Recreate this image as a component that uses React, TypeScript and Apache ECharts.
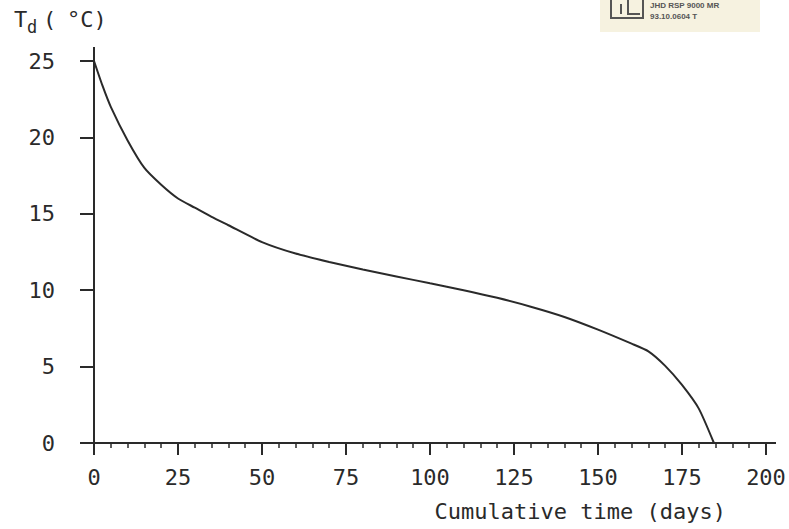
import React, { useEffect, useRef } from "react";
import * as echarts from "echarts";

const days = [0, 2.5, 5, 10, 15, 20, 25, 30, 35, 40, 50, 60, 70, 80, 90, 100, 110, 120, 130, 140, 150, 160, 165, 170, 175, 180, 184.5];
const temps = [25, 23.4, 22.0, 19.8, 18.0, 16.9, 16.0, 15.4, 14.8, 14.25, 13.15, 12.4, 11.85, 11.35, 10.9, 10.45, 10.0, 9.5, 8.92, 8.25, 7.42, 6.5, 6.0, 5.05, 3.8, 2.25, 0];
const xTicks = [0, 25, 50, 75, 100, 125, 150, 175, 200];
const yTicks = [0, 5, 10, 15, 20, 25];
const xName = "Cumulative time (days)";
const stampLines = ["JHD RSP 9000 MR", "93.10.0604 T"];

const FONT = "DejaVu Sans Mono";
const INK = "#2a2a2a";

export default function App() {
  const ref = useRef<HTMLDivElement>(null);
  useEffect(() => {
    if (!ref.current) return;
    const chart = echarts.init(ref.current, null, { renderer: "svg" });
    chart.setOption({
      animation: false,
      backgroundColor: "#ffffff",
      grid: { left: 94, right: 23, top: 61, bottom: 86 },
      xAxis: {
        type: "value",
        min: xTicks[0],
        max: xTicks[xTicks.length - 1],
        interval: 25,
        axisLine: { show: true, lineStyle: { color: INK, width: 2 } },
        axisTick: { show: true, length: 12, lineStyle: { color: INK, width: 2 } },
        minorTick: { show: true, splitNumber: 5, length: 5, lineStyle: { color: INK, width: 1.5 } },
        splitLine: { show: false },
        axisLabel: { margin: 23, color: INK, fontSize: 22, fontFamily: FONT },
      },
      yAxis: {
        type: "value",
        min: yTicks[0],
        max: yTicks[yTicks.length - 1],
        interval: 5,
        axisLine: { show: true, lineStyle: { color: INK, width: 2 } },
        axisTick: { show: true, length: 14, lineStyle: { color: INK, width: 2 } },
        splitLine: { show: false },
        axisLabel: { margin: 39, color: INK, fontSize: 22, fontFamily: FONT },
      },
      series: [
        {
          type: "line",
          data: days.map((d, i) => [d, temps[i]]),
          showSymbol: false,
          smooth: 0.2,
          lineStyle: { color: INK, width: 2 },
        },
      ],
      graphic: [
        // axis line extensions
        { type: "line", shape: { x1: 94, y1: 47, x2: 94, y2: 62 }, style: { stroke: INK, lineWidth: 2 } },
        { type: "line", shape: { x1: 80, y1: 443, x2: 95, y2: 443 }, style: { stroke: INK, lineWidth: 2 } },
        { type: "line", shape: { x1: 765, y1: 443, x2: 776, y2: 443 }, style: { stroke: INK, lineWidth: 2 } },
        // y axis name
        { type: "text", left: 14, top: 8, style: { text: "T", fontSize: 22, fontFamily: FONT, fill: INK } },
        { type: "text", left: 27, top: 18, style: { text: "d", fontSize: 17, fontFamily: FONT, fill: INK } },
        { type: "text", left: 43, top: 8, style: { text: "(", fontSize: 22, fontFamily: FONT, fill: INK } },
        { type: "text", left: 67, top: 8, style: { text: "°C)", fontSize: 22, fontFamily: FONT, fill: INK } },
        // x axis name
        { type: "text", right: 789 - 726, top: 500, style: { text: xName, fontSize: 22, fontFamily: FONT, fill: INK } },
        // stamp
        { type: "rect", shape: { x: 600, y: 0, width: 160, height: 32 }, style: { fill: "#f6f2e0" } },
        { type: "rect", shape: { x: 611, y: -4, width: 32, height: 22 }, style: { fill: "none", stroke: "#555", lineWidth: 2 } },
        { type: "line", shape: { x1: 621, y1: 4, x2: 621, y2: 14 }, style: { stroke: "#555", lineWidth: 2 } },
        { type: "polyline", shape: { points: [[628, -2], [628, 14], [640, 14]] }, style: { stroke: "#555", lineWidth: 2, fill: "none" } },
        { type: "text", left: 650, top: 1, style: { text: stampLines[0], fontSize: 8, fontWeight: "bold", fontFamily: "Liberation Sans", fill: "#555" } },
        { type: "text", left: 650, top: 12, style: { text: stampLines[1], fontSize: 8, fontWeight: "bold", fontFamily: "Liberation Sans", fill: "#555" } },
      ],
    });
    return () => chart.dispose();
  }, []);
  return <div ref={ref} style={{ width: 789, height: 529, position: "absolute", left: 0, top: 0 }} />;
}
